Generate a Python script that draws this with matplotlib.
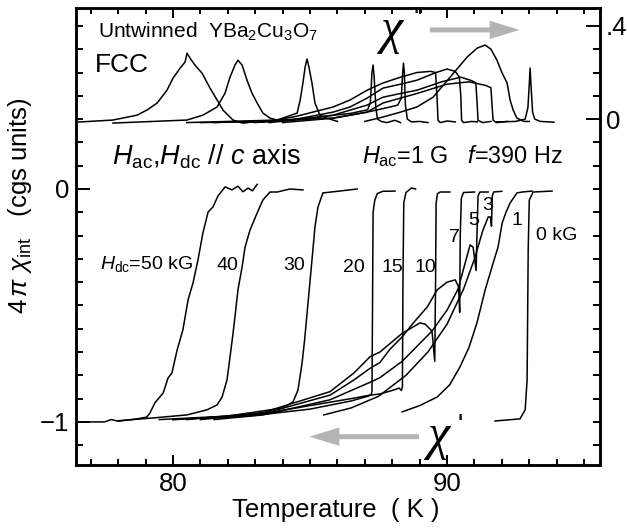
import matplotlib
matplotlib.use("Agg")
import matplotlib.pyplot as plt
from matplotlib.ticker import MultipleLocator
from matplotlib.patches import FancyArrowPatch

plt.rcParams['font.family'] = ['Liberation Sans', 'DejaVu Sans']
plt.rcParams['mathtext.fontset'] = 'custom'
plt.rcParams['mathtext.rm'] = 'Liberation Sans'
plt.rcParams['mathtext.it'] = 'Liberation Sans:italic'
plt.rcParams['mathtext.bf'] = 'Liberation Sans:bold'

# ---- chi' (real part), temperature in K, 4 pi chi in cgs units ----
t_re50 = [76.5, 77.5, 77.75, 78.0, 78.69, 79.05, 79.16, 79.34, 79.64, 79.82, 79.96, 80.15, 80.36, 80.55,
          80.73, 80.91, 81.09, 81.28, 81.46, 81.64, 81.9, 82.15, 82.37, 82.55, 82.74, 82.9, 83.07]
re50 = [-1.0, -1.0, -0.99, -0.997, -0.987, -0.979, -0.961, -0.918, -0.876, -0.811, -0.79, -0.691, -0.605, -0.476,
        -0.403, -0.305, -0.189, -0.099, -0.077, -0.03, 0.009, -0.004, 0.012, -0.012, 0.004, -0.008, 0.02]
t_re40 = [78.0, 79.27, 80.51, 81.24, 81.61, 81.79, 81.97, 82.08, 82.19, 82.26, 82.37, 82.52, 82.63,
          82.81, 83.07, 83.28, 83.54, 83.8, 84.27, 84.74]
re40 = [-0.995, -0.983, -0.97, -0.948, -0.927, -0.893, -0.82, -0.721, -0.62, -0.549, -0.433, -0.335, -0.249,
        -0.176, -0.103, -0.047, -0.013, -0.013, 0.0, -0.004]
t_re30 = [79.5, 82.0, 84.01, 84.38, 84.56, 84.71, 84.8, 84.96, 85.07, 85.18, 85.29, 85.47, 86.0, 86.72]
re30 = [-0.99, -0.975, -0.94, -0.914, -0.863, -0.747, -0.65, -0.446, -0.305, -0.163, -0.077, -0.017, -0.01, 0.0]
t_re20 = [80.0, 83.0, 85.0, 86.5, 87.1, 87.22, 87.26, 87.28, 87.3, 87.36, 87.45, 87.65, 88.1]
re20 = [-0.99, -0.972, -0.945, -0.91, -0.89, -0.885, -0.87, -0.5, -0.1, -0.05, -0.02, -0.01, -0.009]
t_re15 = [80.0, 83.0, 85.0, 86.5, 87.19, 87.55, 88.0, 88.25, 88.33, 88.37, 88.39, 88.42, 88.5, 88.7, 88.85]
re15 = [-0.99, -0.97, -0.93, -0.9, -0.885, -0.88, -0.865, -0.855, -0.865, -0.85, -0.4, -0.06, -0.015, 0.004, 0.0]
t_re10 = [80.5, 83.28, 85.73, 86.6, 87.19, 87.55, 88.36, 89.01, 89.2, 89.45, 89.55, 89.58, 89.6, 89.65, 89.75, 90.1]
re10 = [-0.99, -0.96, -0.87, -0.79, -0.72, -0.70, -0.62, -0.575, -0.58, -0.61, -0.74, -0.4, -0.06, -0.02, -0.013, -0.013]
t_re7 = [81.0, 83.28, 85.73, 86.6, 87.19, 87.55, 87.9, 88.36, 88.77, 89.28, 89.64, 90.0, 90.3, 90.42, 90.46,
         90.48, 90.52, 90.6, 91.0]
re7 = [-0.99, -0.965, -0.885, -0.82, -0.77, -0.745, -0.69, -0.635, -0.575, -0.506, -0.433, -0.40, -0.39, -0.42,
       -0.53, -0.2, -0.04, -0.015, -0.013]
t_re5 = [81.5, 83.28, 85.73, 86.6, 87.19, 87.55, 88.36, 89.45, 90.0, 90.4, 90.84, 90.95, 91.06, 91.1, 91.13,
         91.2, 91.5]
re5 = [-0.99, -0.97, -0.905, -0.86, -0.83, -0.81, -0.74, -0.61, -0.52, -0.43, -0.24, -0.25, -0.35, -0.15, -0.03,
       -0.013, -0.013]
t_re3 = [85.5, 86.5, 87.5, 88.5, 89.3, 90.0, 90.6, 91.0, 91.3, 91.5, 91.58, 91.62, 91.65, 91.7, 92.0]
re3 = [-0.97, -0.94, -0.89, -0.8, -0.7, -0.58, -0.43, -0.3, -0.18, -0.12, -0.12, -0.16, -0.03, -0.013, -0.01]
t_re1 = [88.36, 89.0, 89.64, 90.1, 90.47, 90.8, 91.09, 91.39, 91.65, 91.86, 92.01, 92.15, 92.3, 92.55, 92.74, 93.1]
re1 = [-0.957, -0.93, -0.893, -0.84, -0.764, -0.68, -0.575, -0.433, -0.33, -0.249, -0.146, -0.1, -0.06, -0.017,
       -0.013, -0.009]
t_re0 = [91.75, 92.66, 92.85, 92.92, 92.96, 93.0, 93.14, 93.83]
re0 = [-0.996, -0.987, -0.948, -0.82, -0.26, -0.047, -0.013, -0.009]

# ---- chi'' (imaginary part), right-hand scale ----
t_im50 = [76.5, 77.81, 78.69, 79.05, 79.42, 79.78, 80.0, 80.26, 80.44, 80.51, 80.62, 80.8, 81.06, 81.35,
          81.61, 81.82, 82.19, 82.55, 82.81, 83.3]
im50 = [-0.013, -0.004, 0.017, 0.039, 0.069, 0.124, 0.176, 0.219, 0.245, 0.283, 0.262, 0.232, 0.197, 0.133,
        0.082, 0.039, -0.004, -0.017, -0.013, -0.013]
t_im40 = [77.81, 80.51, 81.09, 81.61, 81.9, 82.08, 82.26, 82.37, 82.52, 82.7, 82.88, 83.07, 83.28, 83.54, 83.8]
im40 = [-0.017, -0.004, 0.017, 0.052, 0.112, 0.18, 0.232, 0.253, 0.232, 0.167, 0.112, 0.069, 0.026, 0.004, -0.004]
t_im30 = [80.5, 83.8, 84.53, 84.64, 84.74, 84.82, 84.89, 84.96, 85.07, 85.18, 85.36, 85.62, 86.0]
im30 = [-0.015, -0.004, 0.026, 0.082, 0.155, 0.223, 0.258, 0.223, 0.155, 0.069, 0.017, 0.004, -0.01]
t_im20 = [81.0, 83.5, 85.0, 86.5, 87.1, 87.2, 87.26, 87.3, 87.34, 87.4, 87.46, 87.6, 87.8, 88.1, 88.3]
im20 = [-0.015, -0.01, 0.005, 0.025, 0.04, 0.07, 0.2, 0.232, 0.18, 0.05, 0.0, -0.01, -0.015, -0.005, -0.015]
t_im15 = [81.5, 84.0, 85.84, 87.08, 87.66, 88.2, 88.33, 88.38, 88.41, 88.44, 88.48, 88.55, 88.7, 89.0, 89.3]
im15 = [-0.015, -0.005, 0.004, 0.03, 0.045, 0.06, 0.09, 0.2, 0.24, 0.2, 0.06, 0.0, -0.012, -0.01, -0.015]
t_im10 = [82.5, 83.5, 84.5, 85.84, 86.46, 87.08, 87.66, 88.3, 88.9, 89.4, 89.58, 89.63, 89.67, 89.75, 90.0, 90.3]
im10 = [-0.015, -0.01, 0.012, 0.052, 0.082, 0.124, 0.155, 0.18, 0.2, 0.205, 0.2, 0.1, -0.005, -0.015, -0.008, -0.012]
t_im7 = [83.0, 84.5, 85.84, 86.46, 87.08, 87.66, 88.3, 88.9, 89.6, 90.0, 90.3, 90.45, 90.5, 90.53, 90.6, 90.9, 91.1]
im7 = [-0.015, 0.0, 0.03, 0.052, 0.09, 0.133, 0.15, 0.167, 0.2, 0.215, 0.205, 0.18, 0.1, -0.005, -0.015, -0.01, -0.012]
t_im5 = [83.5, 84.8, 85.84, 87.08, 87.66, 88.3, 88.9, 89.8, 90.5, 90.9, 91.05, 91.1, 91.13, 91.3, 91.6]
im5 = [-0.015, 0.0, 0.017, 0.06, 0.094, 0.11, 0.124, 0.16, 0.18, 0.165, 0.155, 0.06, -0.005, -0.015, -0.01]
t_im3 = [84.0, 85.84, 87.08, 87.66, 88.9, 90.0, 90.8, 91.4, 91.6, 91.64, 91.68, 91.8, 92.2]
im3 = [-0.015, 0.004, 0.03, 0.069, 0.11, 0.15, 0.16, 0.145, 0.135, 0.06, -0.005, -0.015, -0.01]
t_im1 = [87.0, 87.66, 88.3, 88.9, 89.49, 90.11, 90.73, 91.1, 91.39, 91.6, 91.82, 92.0, 92.19, 92.3, 92.41,
         92.55, 92.8, 93.0]
im1 = [-0.01, 0.009, 0.03, 0.052, 0.094, 0.18, 0.266, 0.305, 0.318, 0.3, 0.253, 0.2, 0.155, 0.082, 0.039,
       0.004, -0.01, -0.01]
t_im0 = [91.8, 92.5, 92.85, 92.95, 93.0, 93.03, 93.06, 93.12, 93.2, 93.4, 93.9]
im0 = [-0.012, -0.01, 0.0, 0.05, 0.15, 0.219, 0.15, 0.03, 0.0, -0.01, -0.013]

re_curves = [(t_re50, re50), (t_re40, re40), (t_re30, re30), (t_re20, re20), (t_re15, re15),
             (t_re10, re10), (t_re7, re7), (t_re5, re5), (t_re3, re3), (t_re1, re1), (t_re0, re0)]
im_curves = [(t_im50, im50), (t_im40, im40), (t_im30, im30), (t_im20, im20), (t_im15, im15),
             (t_im10, im10), (t_im7, im7), (t_im5, im5), (t_im3, im3), (t_im1, im1), (t_im0, im0)]

field_labels = ['40', '30', '20', '15', '10', '7', '5', '3', '1', '0 kG']
label_x = [82.0, 84.4, 86.6, 88.0, 89.2, 90.28, 90.97, 91.48, 92.54, 94.0]
label_y = [-0.33, -0.33, -0.335, -0.335, -0.335, -0.21, -0.135, -0.07, -0.135, -0.2]

fig = plt.figure(figsize=(6.27, 5.31), dpi=100)
ax = fig.add_axes([76 / 627, 1 - 465 / 531, 524 / 627, 457 / 531])
ax.set_xlim(76.46, 95.58)
ax.set_ylim(-1.185, 0.777)
ax2 = ax.twinx()
ax2.set_ylim(-1.485, 0.477)

for t, v in re_curves:
    ax.plot(t, v, color='black', lw=1.1)
for t, v in im_curves:
    ax2.plot(t, v, color='black', lw=1.1)

# ticks
ax.set_xticks([80, 90])
ax.set_xticklabels(['80', '90'])
ax.xaxis.set_minor_locator(MultipleLocator(1))
ax.set_yticks([0, -1])
ax.set_yticklabels(['0', '\u22121'])
ax.yaxis.set_minor_locator(MultipleLocator(0.1))
ax.tick_params(which='both', direction='in', top=True, right=False, width=1.4, labelsize=18.5)
ax.tick_params(axis='x', which='major', length=7, pad=5)
ax.tick_params(axis='x', which='minor', length=4)
ax.tick_params(axis='y', which='major', length=10, pad=5)
ax.tick_params(axis='y', which='minor', length=5)
ax2.set_yticks([0, 0.4])
ax2.set_yticklabels(['0', '.4'])
ax2.yaxis.set_minor_locator(MultipleLocator(0.1))
ax2.tick_params(which='both', direction='in', width=1.4, labelsize=18.5, pad=4)
ax2.tick_params(which='major', length=10)
ax2.tick_params(which='minor', length=5)
for a in (ax, ax2):
    for s in a.spines.values():
        s.set_linewidth(1.8)

# annotations
ax.text(0.042, 0.947, r'Untwinned  YBa$_2$Cu$_3$O$_7$', transform=ax.transAxes, fontsize=15, va='center')
ax.text(0.036, 0.875, 'FCC', transform=ax.transAxes, fontsize=19, va='center')
ax.text(0.068, 0.675, r'$H_{\rm ac}$,$H_{\rm dc}$ // $c$ axis', transform=ax.transAxes, fontsize=19.5, va='center')
ax.text(0.545, 0.675, r'$H_{\rm ac}$=1 G   $f$=390 Hz', transform=ax.transAxes, fontsize=16.8, va='center')
ax.text(0.045, 0.44, r'$H_{\rm dc}$=50 kG', transform=ax.transAxes, fontsize=14, va='center')
for lab, lx, ly in zip(field_labels, label_x, label_y):
    ax.text(lx, ly, lab, fontsize=14, ha='center', va='center')

ax.text(0.582, 0.95, '\u03c7', transform=ax.transAxes, fontsize=36, va='center',
        family='Liberation Serif', style='italic')
ax.text(0.645, 0.975, "''", transform=ax.transAxes, fontsize=20, va='center')
ax.text(0.672, 0.062, '\u03c7', transform=ax.transAxes, fontsize=36, va='center',
        family='Liberation Serif', style='italic')
ax.text(0.728, 0.085, "'", transform=ax.transAxes, fontsize=20, va='center')

arrow_style = 'simple,head_width=1.1,head_length=1.8,tail_width=0.3'
arr_top = FancyArrowPatch((0.67, 0.952), (0.852, 0.952), transform=ax.transAxes,
                          arrowstyle=arrow_style, mutation_scale=12, color='#b4b4b4', lw=0)
ax.add_patch(arr_top)
arr_bot = FancyArrowPatch((0.66, 0.062), (0.44, 0.062), transform=ax.transAxes,
                          arrowstyle=arrow_style, mutation_scale=12, color='#b4b4b4', lw=0)
ax.add_patch(arr_bot)

fig.text(20 / 627, 1 - 206 / 531, r'$4\,\pi\ \chi_{\rm int}$   (cgs units)', rotation=90,
         fontsize=18.5, ha='center', va='center')
fig.text(336 / 627, 1 - 510 / 531, 'Temperature  ( K )', fontsize=18.5, ha='center', va='center')

fig.savefig('out.png', dpi=100)
